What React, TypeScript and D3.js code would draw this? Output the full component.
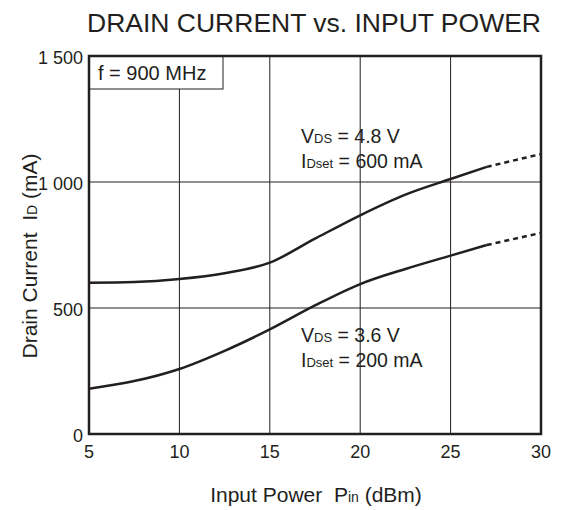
import React from "react";
import * as d3 from "d3";

const xTicks = [5, 10, 15, 20, 25, 30];
const yTicks = [0, 500, 1000, 1500];
const yTickLabels = ["0", "500", "1 000", "1 500"];

// Upper curve: VDS = 4.8 V, IDset = 600 mA
const upperPin = [5, 7.5, 10, 12.5, 15, 17.5, 20, 22.5, 25, 27];
const upperId = [600, 603, 615, 638, 680, 775, 868, 950, 1012, 1060];
const upperDashPin = [27, 30];
const upperDashId = [1060, 1111];

// Lower curve: VDS = 3.6 V, IDset = 200 mA
const lowerPin = [5, 7.5, 10, 12.5, 15, 17.5, 20, 22.5, 25, 27];
const lowerId = [180, 210, 258, 330, 415, 510, 595, 655, 708, 750];
const lowerDashPin = [27, 30];
const lowerDashId = [750, 798];

const W = 563;
const H = 510;
const L = 89, R = 541, T = 56, B = 434;
const font = "Liberation Sans, Arial, sans-serif";
const ink = "#231f20";

export default function App() {
  const x = d3.scaleLinear().domain([5, 30]).range([L, R]);
  const y = d3.scaleLinear().domain([0, 1500]).range([B, T]);
  const line = d3
    .line<[number, number]>()
    .x((d) => x(d[0]))
    .y((d) => y(d[1]))
    .curve(d3.curveMonotoneX);
  const zip = (a: number[], b: number[]) => a.map((v, i) => [v, b[i]] as [number, number]);

  return (
    <svg width={W} height={H} style={{ position: "absolute", left: 0, top: 0 }} fontFamily={font}>
      <rect x={0} y={0} width={W} height={H} fill="#fff" />
      <text x={314} y={32} fontSize={26.5} textAnchor="middle" fill={ink}>
        DRAIN CURRENT vs. INPUT POWER
      </text>
      {/* grid */}
      {xTicks.slice(1, -1).map((t) => (
        <line key={"gx" + t} x1={x(t)} x2={x(t)} y1={T} y2={B} stroke={ink} strokeWidth={1} />
      ))}
      {yTicks.slice(1, -1).map((t) => (
        <line key={"gy" + t} x1={L} x2={R} y1={y(t)} y2={y(t)} stroke={ink} strokeWidth={1} />
      ))}
      {/* legend box */}
      <rect x={L} y={T} width={134} height={33} fill="#fff" stroke={ink} strokeWidth={1} />
      <text x={L + 9} y={T + 24} fontSize={20} fill={ink}>f = 900 MHz</text>
      {/* curves */}
      <path d={line(zip(upperPin, upperId)) || ""} fill="none" stroke={ink} strokeWidth={2.5} />
      <path d={line(zip(upperDashPin, upperDashId)) || ""} fill="none" stroke={ink} strokeWidth={2.5} strokeDasharray="5,4" />
      <path d={line(zip(lowerPin, lowerId)) || ""} fill="none" stroke={ink} strokeWidth={2.5} />
      <path d={line(zip(lowerDashPin, lowerDashId)) || ""} fill="none" stroke={ink} strokeWidth={2.5} strokeDasharray="5,4" />
      {/* frame */}
      <rect x={L} y={T} width={R - L} height={B - T} fill="none" stroke={ink} strokeWidth={2.5} />
      {/* annotations */}
      <g fontSize={19.5} fill={ink}>
        <text x={301} y={143}>V<tspan fontSize={13}>DS</tspan> = 4.8 V</text>
        <text x={301} y={168}>I<tspan fontSize={13}>Dset</tspan> = 600 mA</text>
        <text x={301} y={342}>V<tspan fontSize={13}>DS</tspan> = 3.6 V</text>
        <text x={301} y={367}>I<tspan fontSize={13}>Dset</tspan> = 200 mA</text>
      </g>
      {/* tick labels */}
      <g fontSize={18} fill={ink}>
        {xTicks.map((t) => (
          <text key={"xt" + t} x={x(t)} y={B + 24} textAnchor="middle">{t}</text>
        ))}
        {yTicks.map((t, i) => (
          <text key={"yt" + t} x={L - 6} y={y(t) + 8} textAnchor="end">{yTickLabels[i]}</text>
        ))}
      </g>
      <text x={316} y={502} fontSize={21} textAnchor="middle" fill={ink}>
        Input Power{"\u00a0\u00a0"}P<tspan fontSize={14}>in</tspan> (dBm)
      </text>
      <text transform="translate(37,256) rotate(-90)" fontSize={21} textAnchor="middle" fill={ink}>
        Drain Current{"\u00a0\u00a0"}I<tspan fontSize={14}>D</tspan> (mA)
      </text>
    </svg>
  );
}
